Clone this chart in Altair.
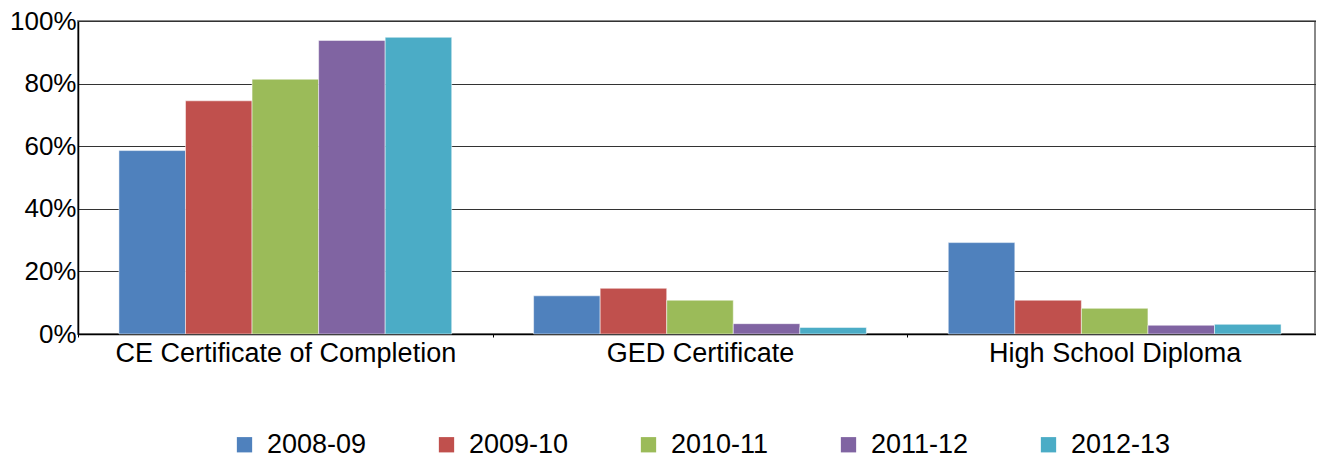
import altair as alt
import pandas as pd

categories = ["CE Certificate of Completion", "GED Certificate", "High School Diploma"]
years = ["2008-09", "2009-10", "2010-11", "2011-12", "2012-13"]
v_2008_09 = [0.586, 0.122, 0.292]
v_2009_10 = [0.745, 0.146, 0.108]
v_2010_11 = [0.814, 0.108, 0.082]
v_2011_12 = [0.938, 0.033, 0.028]
v_2012_13 = [0.948, 0.021, 0.031]
colors = ["#4F81BD", "#C0504D", "#9BBB59", "#8064A2", "#4BACC6"]
y_ticks = [0, 0.2, 0.4, 0.6, 0.8, 1.0]

series = [v_2008_09, v_2009_10, v_2010_11, v_2011_12, v_2012_13]
rows = []
for yr, vals in zip(years, series):
    for cat, v in zip(categories, vals):
        rows.append({"category": cat, "year": yr, "value": v})
df = pd.DataFrame(rows)

FONT = "Liberation Sans, Arial, Helvetica, sans-serif"

chart = alt.Chart(df).mark_bar(stroke="white", strokeOpacity=0.5, strokeWidth=1).encode(
    x=alt.X(
        "category:N",
        sort=categories,
        scale=alt.Scale(paddingInner=0, paddingOuter=0, range=[0, 1244]),
        axis=alt.Axis(
            title=None, labelAngle=0, labelFontSize=27, labelFont=FONT,
            labelColor="black", labelPadding=3, labelLimit=0,
            domainColor="black", domainWidth=1.5, tickColor="black",
            tickSize=3, tickBand="extent", grid=False,
        ),
    ),
    xOffset=alt.XOffset(
        "year:N", sort=years,
        scale=alt.Scale(paddingInner=0, paddingOuter=0.615),
    ),
    y=alt.Y(
        "value:Q",
        scale=alt.Scale(domain=[0, 1], nice=False),
        axis=alt.Axis(
            title=None, values=y_ticks, format=".0%", labelFontSize=26,
            labelFont=FONT, labelColor="black", ticks=False, labelPadding=2,
            gridColor="#333333", gridWidth=1, domainColor="black", domainWidth=1.5,
        ),
    ),
    color=alt.Color(
        "year:N",
        sort=years,
        scale=alt.Scale(domain=years, range=colors),
        legend=alt.Legend(
            title=None, orient="none", legendX=153, legendY=410,
            direction="horizontal", columns=5, symbolType="square",
            symbolSize=234, symbolStrokeWidth=0, symbolOpacity=1,
            labelFontSize=27, labelFont=FONT, labelColor="black",
            labelOffset=9, columnPadding=66, padding=0, labelLimit=0,
        ),
    ),
).properties(
    width=1237,
    height=313,
    autosize=alt.AutoSizeParams(type="none"),
    padding={"left": 70, "top": 13, "right": 1, "bottom": 124},
).configure_view(stroke="#888888", strokeWidth=2)

chart.save("out.html", embed_options={"renderer": "svg", "actions": False})
